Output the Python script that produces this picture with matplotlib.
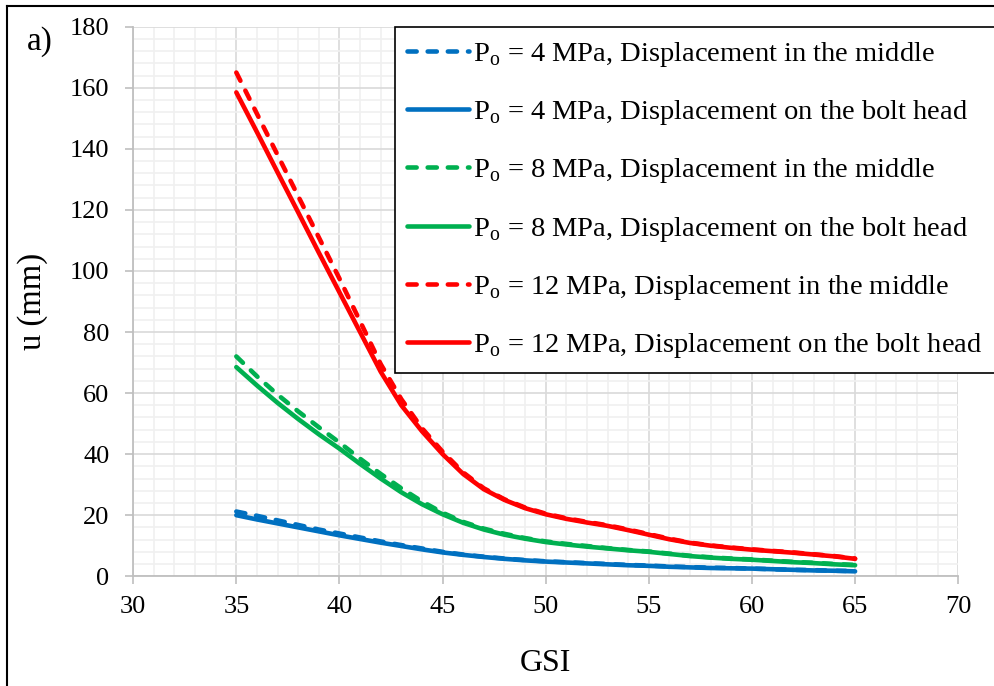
import numpy as np
import matplotlib
matplotlib.use("Agg")
import matplotlib.pyplot as plt
from matplotlib.lines import Line2D
from matplotlib.ticker import MultipleLocator

plt.rcParams["font.family"] = ["Liberation Serif", "DejaVu Serif"]
plt.rcParams["mathtext.fontset"] = "custom"
plt.rcParams["mathtext.rm"] = "Liberation Serif"

# ---- data ----
gsi = list(range(35, 66))

u4_mid = [21.2, 19.8, 18.3, 16.8, 15.3, 14.0, 12.7, 11.4, 10.2, 9.1, 8.0,
          7.1, 6.4, 5.8, 5.3, 4.9, 4.6, 4.3, 4.0, 3.7, 3.5, 3.2, 3.0, 2.8,
          2.7, 2.5, 2.3, 2.1, 2.0, 1.8, 1.7]
u4_head = [20.0, 18.6, 17.3, 16.0, 14.7, 13.4, 12.2, 11.0, 9.9, 8.8, 7.8,
           7.0, 6.3, 5.7, 5.2, 4.8, 4.5, 4.2, 3.9, 3.6, 3.4, 3.1, 2.9, 2.7,
           2.6, 2.5, 2.3, 2.1, 1.9, 1.8, 1.6]
u8_mid = [72.0, 65.5, 59.5, 54.0, 48.8, 43.8, 38.5, 33.5, 28.8, 24.5, 20.8,
          17.8, 15.6, 13.9, 12.5, 11.4, 10.6, 9.9, 9.2, 8.6, 8.1, 7.4, 6.7,
          6.2, 5.8, 5.5, 5.1, 4.7, 4.4, 4.0, 3.7]
u8_head = [68.5, 62.5, 56.8, 51.5, 46.5, 41.8, 36.8, 32.0, 27.5, 23.6, 20.3,
           17.5, 15.3, 13.6, 12.3, 11.2, 10.4, 9.7, 9.1, 8.5, 8.0, 7.3, 6.6,
           6.1, 5.7, 5.4, 5.0, 4.6, 4.3, 3.9, 3.6]
u12_mid = [165.0, 151.5, 138.0, 124.5, 111.0, 97.5, 83.5, 69.5, 58.0, 48.5,
           40.8, 34.0, 28.8, 25.2, 22.5, 20.5, 19.0, 17.8, 16.7, 15.3, 13.8,
           12.3, 11.0, 10.1, 9.4, 8.8, 8.3, 7.8, 7.2, 6.6, 5.8]
u12_head = [158.5, 145.5, 132.3, 119.2, 106.0, 93.0, 80.0, 67.0, 56.0, 47.5,
            40.0, 33.5, 28.5, 25.0, 22.3, 20.3, 18.8, 17.6, 16.5, 15.1, 13.6,
            12.1, 10.9, 10.0, 9.3, 8.7, 8.2, 7.7, 7.1, 6.5, 5.7]

series = [
    (u4_mid, "#0070C0", "dash", "4", "in the middle"),
    (u4_head, "#0070C0", "solid", "4", "on the bolt head"),
    (u8_mid, "#00B050", "dash", "8", "in the middle"),
    (u8_head, "#00B050", "solid", "8", "on the bolt head"),
    (u12_mid, "#FF0000", "dash", "12", "in the middle"),
    (u12_head, "#FF0000", "solid", "12", "on the bolt head"),
]

fig = plt.figure(figsize=(9.94, 6.86), dpi=100)
ax = fig.add_axes([0.134, 0.160, 0.830, 0.801])

for (vals, col, style, p0, where) in series:
    lbl = r"P$_\mathrm{o}$ = " + p0 + " MPa, Displacement " + where
    line, = ax.plot(gsi, vals, color=col, lw=3.3, label=lbl,
                    solid_capstyle="round", dash_capstyle="round",
                    solid_joinstyle="round")
    if style == "dash":
        line.set_dashes((2.0, 2.4))

ax.set_xlim(30, 70)
ax.set_ylim(0, 180)
ax.xaxis.set_major_locator(MultipleLocator(5))
ax.xaxis.set_minor_locator(MultipleLocator(1))
ax.yaxis.set_major_locator(MultipleLocator(20))
ax.yaxis.set_minor_locator(MultipleLocator(4))
ax.grid(which="major", color="#d9d9d9", lw=1.2)
ax.grid(which="minor", color="#f0f0f0", lw=1.2)
ax.set_axisbelow(True)

for s in ["top", "right"]:
    ax.spines[s].set_visible(False)
for s in ["left", "bottom"]:
    ax.spines[s].set_color("#bfbfbf")
    ax.spines[s].set_linewidth(1.3)
ax.tick_params(which="major", direction="out", length=6, width=1.2,
               color="#bfbfbf", labelsize=19)
ax.tick_params(axis="x", pad=8)
ax.tick_params(axis="y", pad=11)
ax.tick_params(which="minor", length=0)

ax.set_xlabel("GSI", fontsize=23)
ax.set_ylabel("u (mm)", fontsize=23.5)
ax.xaxis.set_label_coords(0.5, -0.133)
ax.yaxis.set_label_coords(-0.103, 0.5)

fig.text(0.027, 0.940, "a)", fontsize=24, va="center", ha="left")

leg = ax.legend(loc="upper left", bbox_to_anchor=(0.397, 0.961),
                bbox_transform=fig.transFigure, fontsize=20.5,
                handlelength=2.15, handletextpad=0.15, labelspacing=1.03,
                borderpad=0.45, borderaxespad=0, fancybox=False,
                framealpha=1, edgecolor="black")
leg.get_frame().set_linewidth(1.2)

# outer frame of the figure panel
fig.add_artist(Line2D([0.007, 0.007], [0.0, 0.991], color="black", lw=1.5,
                      transform=fig.transFigure))
fig.add_artist(Line2D([0.007, 1.0], [0.991, 0.991], color="black", lw=1.5,
                      transform=fig.transFigure))

fig.savefig("out.png", dpi=100)
